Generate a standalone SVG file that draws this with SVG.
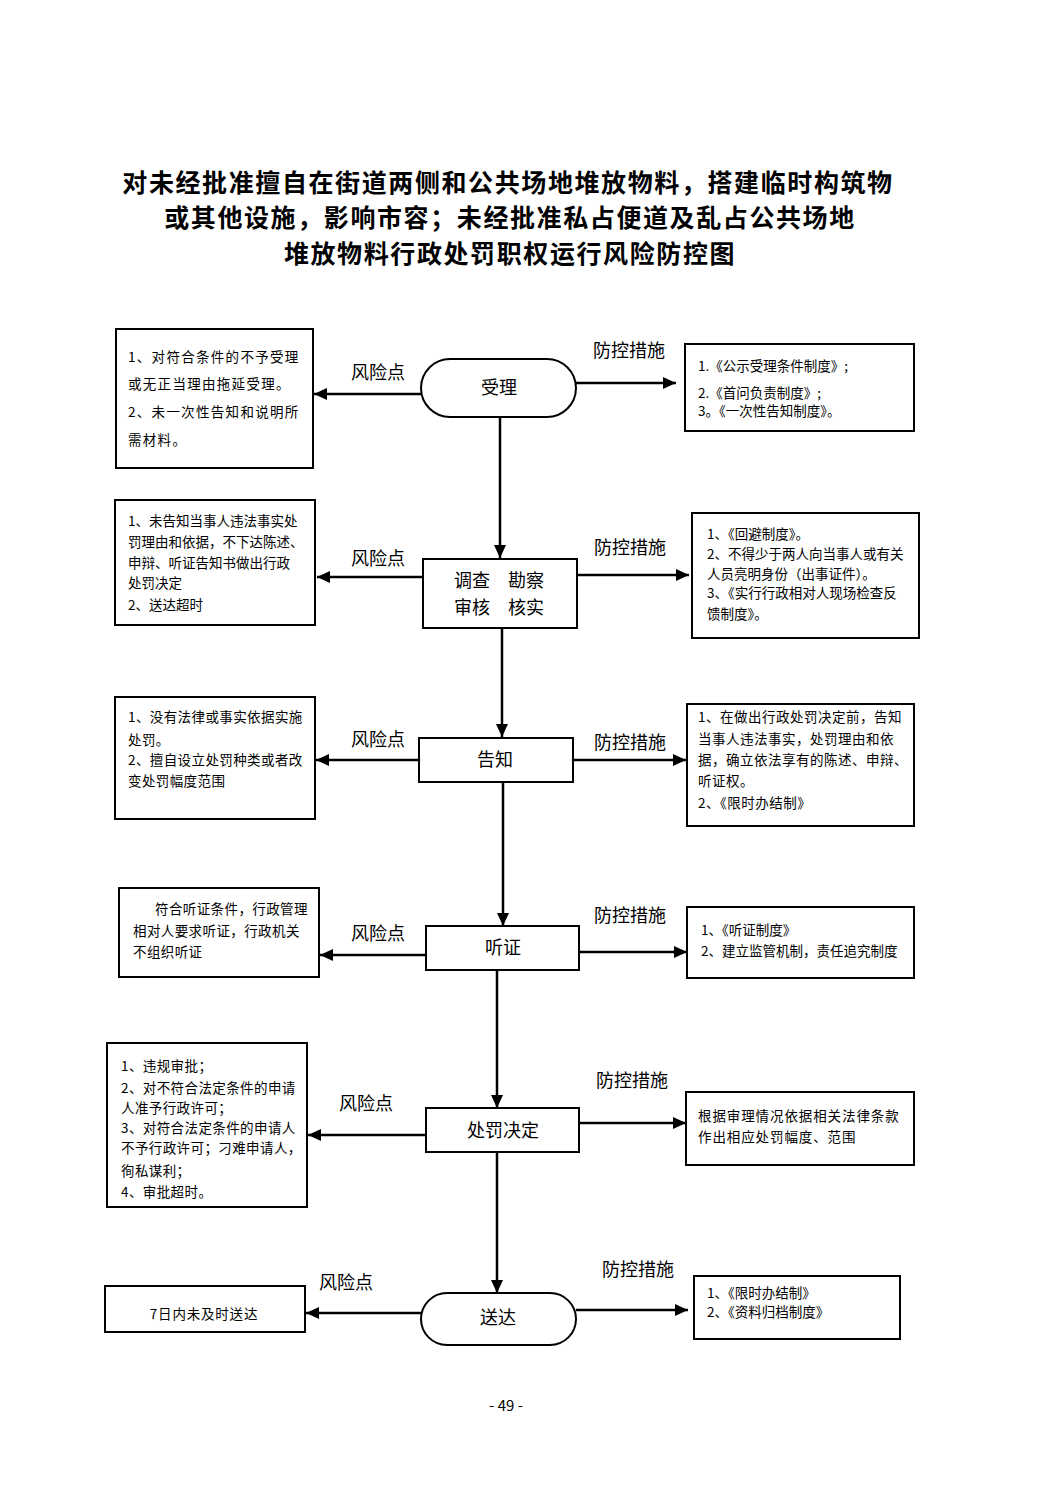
<svg xmlns="http://www.w3.org/2000/svg" width="1063" height="1502" viewBox="0 0 1063 1502">
<style>
text{font-family:"Noto Sans CJK SC","Liberation Sans",sans-serif;fill:#000}
.title{font-size:25px;font-weight:bold;text-anchor:middle;letter-spacing:1.6px}
.box{fill:#fff;stroke:#000;stroke-width:2}
.node{font-size:18px;text-anchor:middle}
.lab{font-size:18px;text-anchor:middle}
.t{font-size:13.5px}
.c{stroke:#000;stroke-width:2.5;fill:none;marker-end:url(#ah)}
</style>
<defs>
<marker id="ah" markerUnits="userSpaceOnUse" markerWidth="13" markerHeight="12" refX="13" refY="6" orient="auto">
<path d="M0,0 L13,6 L0,12 z" fill="#000"/>
</marker>
</defs>
<rect width="1063" height="1502" fill="#fff"/>
<g id="title">
<text class="title" x="508" y="192">对未经批准擅自在街道两侧和公共场地堆放物料，搭建临时构筑物</text>
<text class="title" x="510" y="227">或其他设施，影响市容；未经批准私占便道及乱占公共场地</text>
<text class="title" x="510" y="263">堆放物料行政处罚职权运行风险防控图</text>
</g>
<g id="connectors">
<line class="c" x1="500" y1="417" x2="500" y2="558"/>
<line class="c" x1="502" y1="628" x2="502" y2="737"/>
<line class="c" x1="503" y1="782" x2="503" y2="926"/>
<line class="c" x1="497" y1="970" x2="497" y2="1108"/>
<line class="c" x1="497" y1="1152" x2="497" y2="1293"/>
<line class="c" x1="421" y1="394" x2="314" y2="394"/>
<line class="c" x1="576" y1="383" x2="676" y2="383"/>
<line class="c" x1="423" y1="577" x2="317" y2="577"/>
<line class="c" x1="577" y1="575" x2="689" y2="575"/>
<line class="c" x1="419" y1="760" x2="316" y2="760"/>
<line class="c" x1="573" y1="760" x2="686" y2="760"/>
<line class="c" x1="426" y1="955" x2="320" y2="955"/>
<line class="c" x1="579" y1="952" x2="687" y2="952"/>
<line class="c" x1="426" y1="1135" x2="308" y2="1135"/>
<line class="c" x1="579" y1="1123" x2="686" y2="1123"/>
<line class="c" x1="421" y1="1313" x2="306" y2="1313"/>
<line class="c" x1="576" y1="1310" x2="688" y2="1310"/>
</g>
<g id="labels">
<text class="lab" x="378" y="379">风险点</text>
<text class="lab" x="629" y="357">防控措施</text>
<text class="lab" x="378" y="565">风险点</text>
<text class="lab" x="630" y="554">防控措施</text>
<text class="lab" x="378" y="746">风险点</text>
<text class="lab" x="630" y="749">防控措施</text>
<text class="lab" x="378" y="940">风险点</text>
<text class="lab" x="630" y="922">防控措施</text>
<text class="lab" x="366" y="1110">风险点</text>
<text class="lab" x="632" y="1087">防控措施</text>
<text class="lab" x="346" y="1289">风险点</text>
<text class="lab" x="638" y="1276">防控措施</text>
</g>
<g id="n-shouli">
<rect class="box" x="421" y="359" width="155" height="58" rx="29" ry="29"/>
<text class="node" x="499" y="394">受理</text>
</g>
<g id="r1-risk">
<rect class="box" x="116" y="329" width="197" height="139"/>
<text class="t" x="128" y="362" letter-spacing="1.3">1、对符合条件的不予受理</text>
<text class="t" x="128" y="389" letter-spacing="1.3">或无正当理由拖延受理。</text>
<text class="t" x="128" y="417" letter-spacing="1.3">2、未一次性告知和说明所</text>
<text class="t" x="128" y="445" letter-spacing="1.3">需材料。</text>
</g>
<g id="r1-ctrl">
<rect class="box" x="685" y="344" width="229" height="87"/>
<text class="t" x="698" y="371" font-size="13">1.《公示受理条件制度》;</text>
<text class="t" x="698" y="398" font-size="13">2.《首问负责制度》;</text>
<text class="t" x="698" y="416" font-size="13">3。《一次性告知制度》。</text>
</g>
<g id="n-diaocha">
<rect class="box" x="423" y="559" width="154" height="69"/>
<text class="node" x="499" y="587">调查　勘察</text>
<text class="node" x="499" y="614">审核　核实</text>
</g>
<g id="r2-risk">
<rect class="box" x="115" y="500" width="200" height="125"/>
<text class="t" x="128" y="526">1、未告知当事人违法事实处</text>
<text class="t" x="128" y="547">罚理由和依据，不下达陈述、</text>
<text class="t" x="128" y="568">申辩、听证告知书做出行政</text>
<text class="t" x="128" y="588">处罚决定</text>
<text class="t" x="128" y="610">2、送达超时</text>
</g>
<g id="r2-ctrl">
<rect class="box" x="692" y="513" width="227" height="125"/>
<text class="t" x="707" y="539">1、《回避制度》。</text>
<text class="t" x="707" y="559">2、不得少于两人向当事人或有关</text>
<text class="t" x="707" y="579">人员亮明身份（出事证件）。</text>
<text class="t" x="707" y="598">3、《实行行政相对人现场检查反</text>
<text class="t" x="707" y="619">馈制度》。</text>
</g>
<g id="n-gaozhi">
<rect class="box" x="419" y="738" width="154" height="44"/>
<text class="node" x="495" y="766">告知</text>
</g>
<g id="r3-risk">
<rect class="box" x="115" y="697" width="200" height="122"/>
<text class="t" x="128" y="722" letter-spacing="0.4">1、没有法律或事实依据实施</text>
<text class="t" x="128" y="745" letter-spacing="0.4">处罚。</text>
<text class="t" x="128" y="765" letter-spacing="0.4">2、擅自设立处罚种类或者改</text>
<text class="t" x="128" y="786" letter-spacing="0.4">变处罚幅度范围</text>
</g>
<g id="r3-ctrl">
<rect class="box" x="687" y="704" width="227" height="122"/>
<text class="t" x="698" y="722" letter-spacing="0.5">1、在做出行政处罚决定前，告知</text>
<text class="t" x="698" y="744" letter-spacing="0.5">当事人违法事实，处罚理由和依</text>
<text class="t" x="698" y="765" letter-spacing="0.5">据，确立依法享有的陈述、申辩、</text>
<text class="t" x="698" y="786" letter-spacing="0.5">听证权。</text>
<text class="t" x="698" y="808" letter-spacing="0.5">2、《限时办结制》</text>
</g>
<g id="n-tingzheng">
<rect class="box" x="426" y="926" width="153" height="44"/>
<text class="node" x="503" y="954">听证</text>
</g>
<g id="r4-risk">
<rect class="box" x="119" y="888" width="200" height="89"/>
<text class="t" x="155" y="914" letter-spacing="0.4">符合听证条件，行政管理</text>
<text class="t" x="133" y="936" letter-spacing="0.4">相对人要求听证，行政机关</text>
<text class="t" x="133" y="957" letter-spacing="0.4">不组织听证</text>
</g>
<g id="r4-ctrl">
<rect class="box" x="687" y="907" width="227" height="71"/>
<text class="t" x="701" y="935">1、《听证制度》</text>
<text class="t" x="701" y="956">2、建立监管机制，责任追究制度</text>
</g>
<g id="n-chufa">
<rect class="box" x="426" y="1108" width="153" height="44"/>
<text class="node" x="503" y="1137">处罚决定</text>
</g>
<g id="r5-risk">
<rect class="box" x="107" y="1043" width="200" height="164"/>
<text class="t" x="121" y="1071" letter-spacing="0.4">1、违规审批；</text>
<text class="t" x="121" y="1093" letter-spacing="0.4">2、对不符合法定条件的申请</text>
<text class="t" x="121" y="1113" letter-spacing="0.4">人准予行政许可；</text>
<text class="t" x="121" y="1133" letter-spacing="0.4">3、对符合法定条件的申请人</text>
<text class="t" x="121" y="1153" letter-spacing="0.4">不予行政许可；刁难申请人，</text>
<text class="t" x="121" y="1176" letter-spacing="0.4">徇私谋利；</text>
<text class="t" x="121" y="1197" letter-spacing="0.4">4、审批超时。</text>
</g>
<g id="r5-ctrl">
<rect class="box" x="686" y="1092" width="228" height="73"/>
<text class="t" x="698" y="1121" letter-spacing="0.9">根据审理情况依据相关法律条款</text>
<text class="t" x="698" y="1142" letter-spacing="0.9">作出相应处罚幅度、范围</text>
</g>
<g id="n-songda">
<rect class="box" x="421" y="1293" width="155" height="52" rx="26" ry="26"/>
<text class="node" x="498" y="1324">送达</text>
</g>
<g id="r6-risk">
<rect class="box" x="105" y="1286" width="200" height="46"/>
<text class="t" x="204" y="1319" text-anchor="middle" letter-spacing="0.8">7日内未及时送达</text>
</g>
<g id="r6-ctrl">
<rect class="box" x="694" y="1276" width="206" height="63"/>
<text class="t" x="707" y="1298">1、《限时办结制》</text>
<text class="t" x="707" y="1317">2、《资料归档制度》</text>
</g>
<text x="506" y="1411" font-family="Liberation Sans, sans-serif" font-size="15" text-anchor="middle">- 49 -</text>
</svg>
